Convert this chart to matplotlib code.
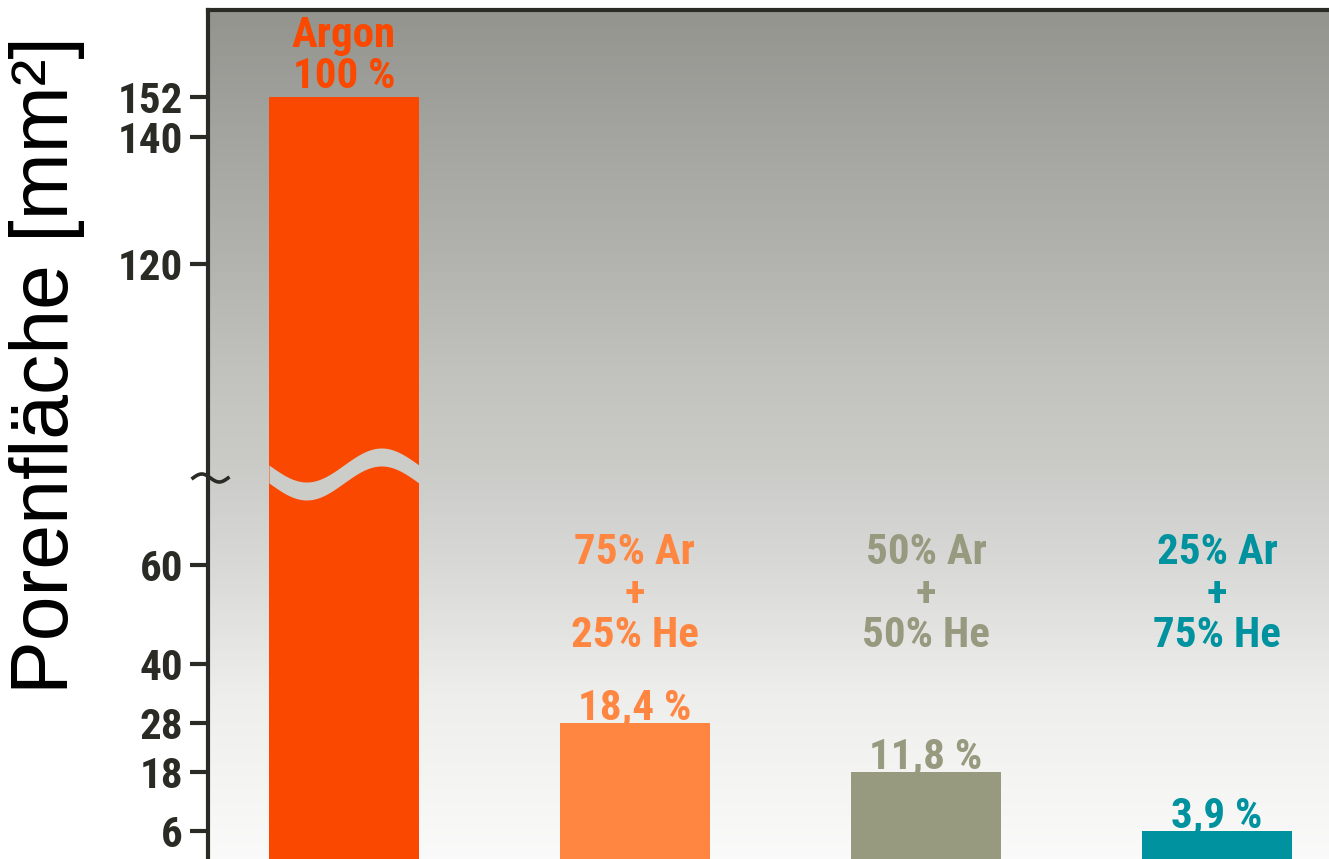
import numpy as np
import matplotlib
matplotlib.use("Agg")
import matplotlib.pyplot as plt
from matplotlib import font_manager
from matplotlib.colors import LinearSegmentedColormap

# ---- data ----
categories = ["Argon\n100 %", "75% Ar\n+\n25% He", "50% Ar\n+\n50% He", "25% Ar\n+\n75% He"]
values = [152, 28, 18, 6]
pct_labels = ["", "18,4 %", "11,8 %", "3,9 %"]
bar_colors = ["#fa4800", "#ff8640", "#989a80", "#00929e"]
yticks = [6, 18, 28, 40, 60, 120, 140, 152]

# broken-axis mapping (data value -> pixel height)
map_data = [0, 60, 78, 120, 140, 152, 178]
map_pix = [0, 296, 386, 597, 724, 764, 851]

fonts = font_manager.fontManager.ttflist
def pick(cands, need_bold=True):
    for c in cands:
        ws = [f.weight for f in fonts if f.name == c]
        if ws and (not need_bold or any((w if isinstance(w, int) else 700 if w == "bold" else 400) >= 600 for w in ws)):
            return c
    return "Liberation Sans"

narrow = pick(["Arial Narrow", "Liberation Sans Narrow", "Archivo Narrow", "Roboto Condensed",
               "PT Sans Narrow", "Pragati Narrow", "Fira Sans Condensed", "IBM Plex Sans Condensed",
               "Barlow Semi Condensed", "Encode Sans Condensed", "Open Sans Condensed"])
wide = pick(["Liberation Sans"], need_bold=False)

def fwd(v):
    return np.interp(v, map_data, map_pix)

def inv(p):
    return np.interp(p, map_pix, map_data)

fig = plt.figure(figsize=(13.29, 8.59), dpi=100)
fig.patch.set_facecolor("white")
ax = fig.add_axes([208 / 1329, 0, 1 - 208 / 1329, 849 / 859])
ax.set_yscale("function", functions=(fwd, inv))
ax.set_xlim(-0.467, 3.385)
ax.set_ylim(0.4, 178)

# background gradient
stops = [(0.0, "#fafafa"), (0.19, "#eeeeec"), (0.35, "#d8d8d6"), (0.46, "#cbccc8"),
         (0.56, "#c3c4c0"), (0.70, "#b3b4b0"), (0.88, "#a1a29d"), (1.0, "#93948e")]
cmap = LinearSegmentedColormap.from_list("bg", stops)
grad = np.linspace(0, 1, 256).reshape(-1, 1)
ax.imshow(grad, cmap=cmap, origin="lower", extent=[0, 1, 0, 1], transform=ax.transAxes,
          aspect="auto", zorder=0)

x = np.arange(len(values))
width = 0.515
bars = ax.bar(x, values, width=width, color=bar_colors, zorder=2)

# wave break across the Argon bar
xs = np.linspace(-width / 2, width / 2, 200)
t = (xs + width / 2) / width
center_px = 474 + 17 * np.sin(2 * np.pi * t)
top_px = center_px - 9
bot_px = center_px + 9
ax.fill_between(xs, inv(861 - bot_px), inv(861 - top_px), color=cmap(0.455), zorder=3, lw=0)

# tilde on the axis
tx = np.linspace(193, 228, 60)
ty = 478 + 4 * np.sin(2 * np.pi * (tx - 193) / 35 + np.pi)
fig.add_artist(plt.Line2D(tx / 1329, 1 - ty / 859, color="#2b2b25", lw=2.6))

# labels
fs = 31
ax.text(x[0], values[0], categories[0], ha="center", va="bottom", color=bar_colors[0],
        fontsize=fs, fontweight="bold", family=narrow, linespacing=1.0, zorder=4)
for i in range(1, 4):
    ax.text(x[i], 41.5, categories[i], ha="center", va="bottom", color=bar_colors[i],
            fontsize=fs, fontweight="bold", family=narrow, linespacing=1.02, zorder=4)
    ax.annotate(pct_labels[i], (x[i], values[i]), xytext=(0, 3), textcoords="offset points",
                ha="center", va="baseline", color=bar_colors[i], fontsize=fs,
                fontweight="bold", family=narrow, zorder=4)

ax.set_yticks(yticks)
ax.set_yticklabels([str(v) for v in yticks])
ax.tick_params(axis="y", length=13, width=3, color="#2b2b25", pad=5, labelsize=fs,
               labelcolor="#2b2b25")
for lbl in ax.get_yticklabels():
    lbl.set_fontweight("bold")
    lbl.set_family(narrow)
ax.set_xticks([])

for s in ["right", "bottom"]:
    ax.spines[s].set_visible(False)
for s in ["left", "top"]:
    ax.spines[s].set_linewidth(3)
    ax.spines[s].set_color("#2b2b25")

ax.set_ylabel("Porenfläche [mm²]", fontsize=58, family=wide, color="black", va="center")
ax.yaxis.set_label_coords((47 - 208) / 1121, (859 - 365) / 849)

fig.savefig("out.png", dpi=100)
